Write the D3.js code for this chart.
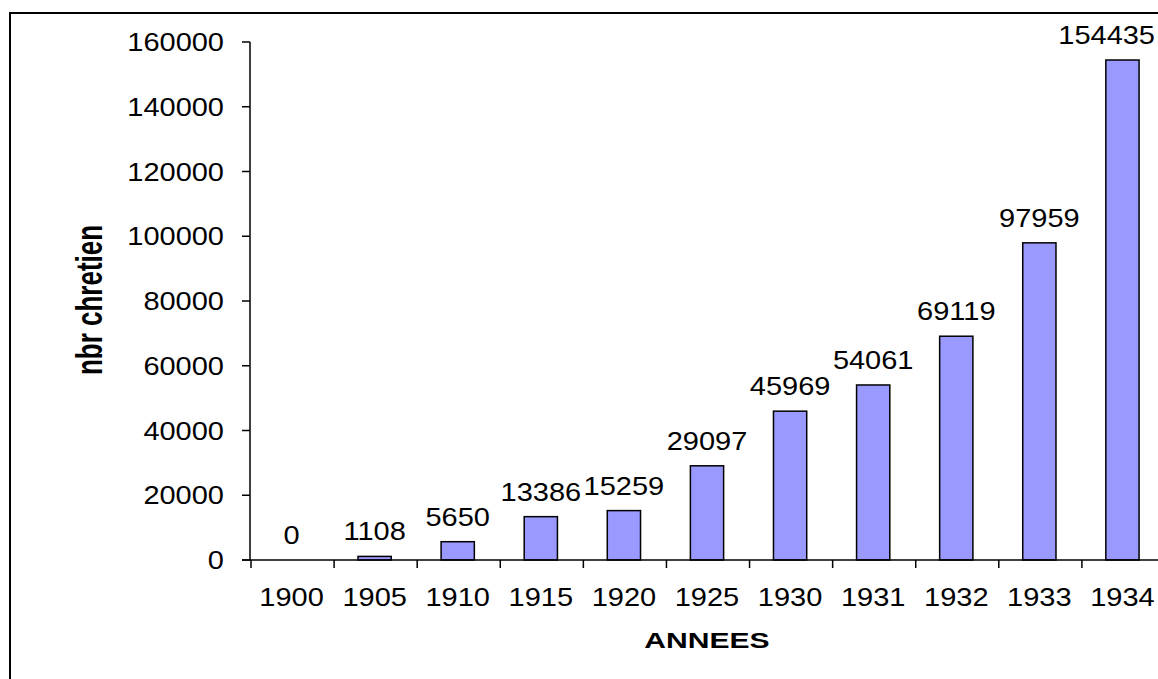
<!DOCTYPE html>
<html>
<head>
<meta charset="utf-8">
<script src="https://cdn.jsdelivr.net/npm/d3@7"></script>
<style>
  body { margin: 0; background: #fff; }
  svg { display: block; }
  text { font-family: "Liberation Sans", Arial, sans-serif; fill: #000; }
</style>
</head>
<body>
<svg id="chart"></svg>
<script>
// data
var years = ["1900", "1905", "1910", "1915", "1920", "1925", "1930", "1931", "1932", "1933", "1934"];
var chretiens = [0, 1108, 5650, 13386, 15259, 29097, 45969, 54061, 69119, 97959, 154435];
var yTicks = [0, 20000, 40000, 60000, 80000, 100000, 120000, 140000, 160000];

var width = 1158,
    height = 679;

var svg = d3.select("#chart")
    .attr("width", width)
    .attr("height", height);

// the picture is stretched sideways, so text gets a horizontal scale
var NUM_SX = 1.16;

// outer frame (right and bottom edges fall off the picture)
svg.append("rect")
    .attr("x", 10).attr("y", 13)
    .attr("width", 1200).attr("height", 800)
    .attr("fill", "none")
    .attr("stroke", "#000")
    .attr("stroke-width", 2);

var plot = {left: 250, right: 1164, top: 42, bottom: 560};

var x = d3.scaleBand()
    .domain(years)
    .range([plot.left, plot.right])
    .paddingInner(0.6)
    .paddingOuter(0.3);

// same bands without padding, for the tick marks between categories
var xCat = d3.scaleBand()
    .domain(years)
    .range([plot.left, plot.right]);

var y = d3.scaleLinear()
    .domain([0, 160000])
    .range([plot.bottom, plot.top]);

// bars
svg.selectAll(".bar")
    .data(years)
    .enter().append("rect")
    .attr("class", "bar")
    .attr("x", function(d) { return x(d); })
    .attr("width", x.bandwidth())
    .attr("y", function(d, i) { return y(chretiens[i]); })
    .attr("height", function(d, i) { return y(0) - y(chretiens[i]); })
    .attr("fill", "#9999ff")
    .attr("stroke", "#000")
    .attr("stroke-width", 1.5);

// value labels
svg.selectAll(".val")
    .data(years)
    .enter().append("text")
    .attr("class", "val")
    .attr("transform", function(d, i) {
        return "translate(" + (x(d) + x.bandwidth() / 2) + "," + (y(chretiens[i]) - 16) + ") scale(" + NUM_SX + ",1)";
    })
    .attr("text-anchor", "middle")
    .style("font-size", "25px")
    .text(function(d, i) { return chretiens[i]; });

// push labels that run past the right edge back inside, like the original does
svg.selectAll(".val").each(function(d, i) {
    var box = this.getBoundingClientRect();
    var over = box.right - (width - 3);
    if (over > 0) {
        var cx = x(d) + x.bandwidth() / 2 - over;
        d3.select(this).attr("transform",
            "translate(" + cx + "," + (y(chretiens[i]) - 16) + ") scale(" + NUM_SX + ",1)");
    }
});

// y axis
var yAxis = svg.append("g")
    .attr("class", "y axis");
yAxis.append("line")
    .attr("x1", plot.left).attr("x2", plot.left)
    .attr("y1", y(160000)).attr("y2", y(0))
    .attr("stroke", "#000").attr("stroke-width", 1.5);
yAxis.selectAll(".tick")
    .data(yTicks)
    .enter().append("line")
    .attr("x1", plot.left - 8).attr("x2", plot.left)
    .attr("y1", function(d) { return y(d); })
    .attr("y2", function(d) { return y(d); })
    .attr("stroke", "#000").attr("stroke-width", 1.5);
yAxis.selectAll(".lbl")
    .data(yTicks)
    .enter().append("text")
    .attr("transform", function(d) { return "translate(224," + y(d) + ") scale(" + NUM_SX + ",1)"; })
    .attr("dy", "0.36em")
    .attr("text-anchor", "end")
    .style("font-size", "25px")
    .text(function(d) { return d; });

// x axis
var xAxis = svg.append("g")
    .attr("class", "x axis");
xAxis.append("line")
    .attr("x1", plot.left - 8).attr("x2", plot.right)
    .attr("y1", y(0)).attr("y2", y(0))
    .attr("stroke", "#000").attr("stroke-width", 1.5);
xAxis.selectAll(".tick")
    .data(years)
    .enter().append("line")
    .attr("x1", function(d) { return xCat(d) + 1; })
    .attr("x2", function(d) { return xCat(d) + 1; })
    .attr("y1", y(0)).attr("y2", y(0) + 8)
    .attr("stroke", "#000").attr("stroke-width", 1.5);
xAxis.selectAll(".lbl")
    .data(years)
    .enter().append("text")
    .attr("transform", function(d) {
        return "translate(" + (xCat(d) + xCat.bandwidth() / 2) + ",606) scale(" + NUM_SX + ",1)";
    })
    .attr("text-anchor", "middle")
    .style("font-size", "25px")
    .text(function(d) { return d; });

// axis titles
svg.append("text")
    .attr("transform", "translate(707,648) scale(1.4,1)")
    .attr("text-anchor", "middle")
    .style("font-size", "21.5px")
    .style("font-weight", "bold")
    .text("ANNEES");

svg.append("text")
    .attr("transform", "translate(102,300) scale(1.4,1) rotate(-90)")
    .attr("text-anchor", "middle")
    .style("font-size", "26px")
    .style("font-weight", "bold")
    .text("nbr chretien");
</script>
</body>
</html>
